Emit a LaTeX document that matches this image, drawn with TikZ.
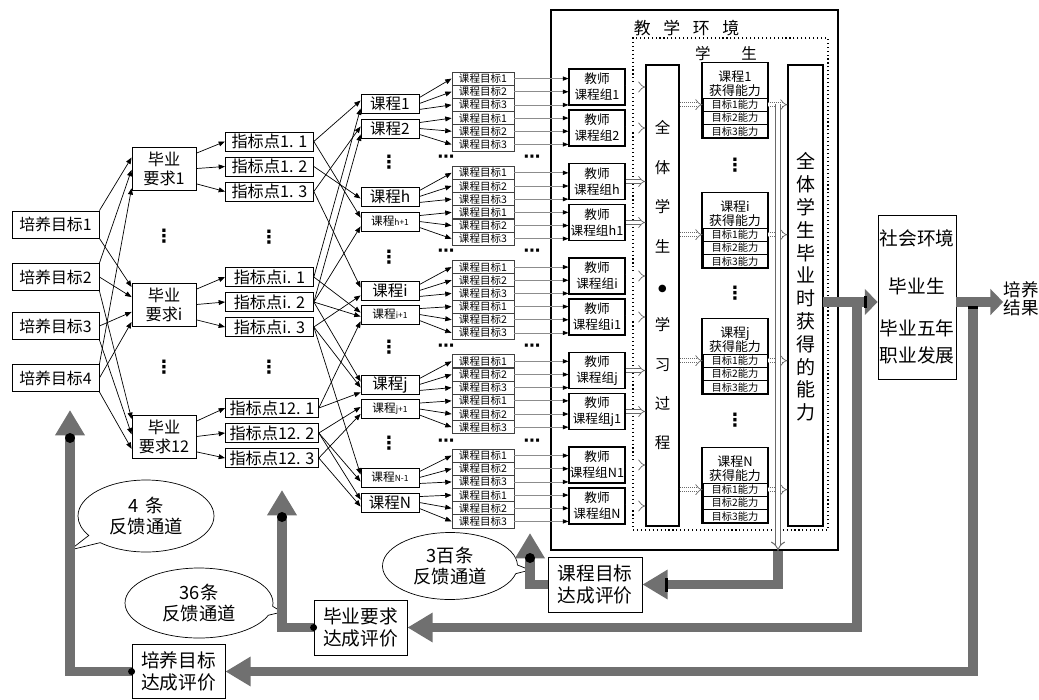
\documentclass[tikz,border=0pt]{standalone}
\usepackage{fontspec}
\setmainfont{Noto Sans CJK SC}
\newfontfamily\dvs{DejaVu Sans}
\usetikzlibrary{arrows.meta,positioning,calc,shapes.callouts}
\definecolor{fbgray}{HTML}{707070}
\definecolor{lgray}{HTML}{8C8C8C}
\definecolor{hgray}{HTML}{6A6A6A}
\newcommand\fsz[2]{\fontsize{#1}{#2}\selectfont}
\newcommand\smk[1]{{\fsz{8.3}{10}课程\fsz{6}{7}#1}}

\begin{document}
\begin{tikzpicture}[x=0.025cm,y=-0.025cm,
  box/.style={draw,line width=0.6pt,inner sep=0pt,align=center},
  wh/.style 2 args={minimum width=#1*0.025cm,minimum height=#2*0.025cm},
  arr/.style={line width=0.5pt,-{Triangle[length=4.5pt,width=3.5pt]}},
  garr/.style={draw=lgray,line width=0.5pt,-{Triangle[length=4pt,width=3pt,black]}},
  hol/.style={draw=hgray,line width=0.5pt,double=white,double distance=2.2pt,-Implies},
  holdot/.style={hol,densely dotted},
  fb/.style={draw=fbgray,line width=7pt,-{Triangle[length=18pt,width=20pt]}},
  fbs/.style={fb,-{Triangle[length=9pt,width=18pt]}},
  dotsv/.style={inner sep=0pt,font=\dvs\bfseries\fsz{13}{13}},
  dotsh/.style={inner sep=0pt,font=\dvs\bfseries\fsz{12}{12}},
  bubble/.style={ellipse callout,draw,line width=0.5pt,inner sep=0pt,align=center,font=\fsz{13}{15.5}}]

\useasboundingbox (0,0) rectangle (1039,699);

% training objectives
\foreach \n/\y in {1/224.5,2/277,3/326,4/378}
  \node[box,wh={87}{27},font=\fsz{11.3}{13}] (pm\n) at (55.5,\y) {培养目标\n};

% graduation requirements
\node[box,wh={64}{43},font=\fsz{11.5}{13.5}] (by1) at (164,168.5) {毕业\\要求1};
\node[box,wh={64}{43},font=\fsz{11.5}{13.5}] (byi) at (164,304.5) {毕业\\要求i};
\node[box,wh={64}{43},font=\fsz{11.5}{13.5}] (by12) at (164,436.5) {毕业\\要求12};
\node[dotsv] (dt1) at (164,236) {⋮};
\node[dotsv] (dt2) at (164,367) {⋮};

% indicator points
\foreach \gi/\y/\w in {1/141.5/88,i/277/88,12/408/93}
  \foreach \ki in {1,2,3}
    \node[box,wh={\w}{19},font=\fsz{11.5}{12},anchor=west] (zb\gi\ki) at (225,\y+25*\ki-25) {指标点\gi. \ki};
\node[dotsv] (dt3) at (269,237) {⋮};
\node[dotsv] (dt4) at (269,367) {⋮};

% courses
\foreach \nm/\y/\lb in {kc1/103.5/{课程1},kc2/128.5/{课程2},kch/196.5/{课程h},kch1/221.5/{\smk{h+1}},
    kci/290.5/{课程i},kci1/314.5/{\smk{i+1}},kcj/384.5/{课程j},kcj1/409/{\smk{j+1}},
    kcN1/477.5/{\smk{N-1}},kcN/502.5/{课程N}}
  \node[box,wh={58}{19},font=\fsz{11}{12}] (\nm) at (390,\y) {\lb};
\foreach \y [count=\c] in {162,257,347,443}
  \node[dotsv] (dk\c) at (389,\y) {⋮};

% course objectives
\foreach \gi in {0,...,4}
  \foreach \ki in {0,...,5} {
    \pgfmathtruncatemacro\tn{mod(\ki,3)+1}
    \node[box,draw=black!75,wh={62}{13.2},font=\fsz{7.5}{8}] (mb\gi\ki) at (483,72+94.25*\gi+13.17*\ki+6.58) {课程目标\tn};
  }
\foreach \y [count=\c] in {159,253,348,443} {
  \node[dotsh] (dl\c) at (446,\y) {⋯};
  \node[dotsh] (dr\c) at (532,\y) {⋯};
}

% teaching environment
\node[draw,line width=0.8pt,wh={287}{540},inner sep=0pt] (jxhj) at (694.5,280) {};
\node[inner sep=0pt,font=\fsz{12}{12}] (jxhjt) at (686.5,28) {教\hspace{9pt}学\hspace{9pt}环\hspace{9pt}境};
\node[draw,dotted,line width=0.8pt,wh={195}{492},inner sep=0pt] (xs) at (730.5,284) {};
\node[inner sep=0pt,font=\fsz{11}{11}] (xst) at (726,54) {学\hspace{22pt}生};

% teacher groups
\foreach \gi/\la/\lb in {0/1/2,1/h/h1,2/i/i1,3/j/j1,4/N1/N} {
  \node[box,line width=0.8pt,wh={56}{36},font=\fsz{9}{11.5}] (js\gi0) at (597,87+94.5*\gi) {教师\\课程组\la};
  \node[box,line width=0.8pt,wh={56}{36},font=\fsz{9}{11.5}] (js\gi1) at (597,128+94.5*\gi) {教师\\课程组\lb};
}

% learning process
\node[box,line width=0.8pt,wh={33}{461}] (qt) at (662.5,295.5) {};
\node[inner sep=0pt,align=center,font=\fsz{11}{28}] (qtt) at (662.5,285.5) {全\\体\\学\\生\\{\dvs\fsz{7}{28}●}\\学\\习\\过\\程};

% abilities per course
\foreach \nm/\tn/\tp in {nl1/1/62,nli/i/192,nlj/j/318,nlN/N/447} {
  \node[box,line width=0.8pt,wh={66}{76},anchor=north] (\nm) at (735,\tp) {};
  \node[inner sep=0pt,align=center,font=\fsz{9.2}{10}] (\nm h) at (735,\tp+22) {课程\tn\\获得能力};
  \foreach \r in {1,2,3}
    \node[box,line width=0.7pt,wh={64}{13.3},font=\fsz{7.3}{8}] (\nm r\r) at (735,\tp+36+13.3*\r-6.65) {目标\r{}能力};
}
\foreach \y [count=\c] in {165,293,420}
  \node[dotsv] (dn\c) at (735,\y) {⋮};

% graduate abilities
\node[box,line width=0.8pt,wh={35}{461}] (qr) at (805.5,295.5) {};
\node[inner sep=0pt,align=center,font=\fsz{13.5}{16.2}] (qrt) at (805.5,287) {全\\体\\学\\生\\毕\\业\\时\\获\\得\\的\\能\\力};

% society
\node[box,wh={78}{164},font=\fsz{13.3}{19}] (shj) at (917,297) {社会环境\\[15pt]毕业生\\[11pt]毕业五年\\职业发展};
\node[inner sep=0pt,align=center,font=\fsz{12.5}{13}] (pyjg) at (1021,299) {培养\\结果};

% evaluations
\node[box,wh={94}{55},font=\fsz{13.3}{15.6}] (kpj) at (595,584.5) {课程目标\\达成评价};
\node[box,wh={93}{55},font=\fsz{13.3}{15.6}] (bpj) at (360.5,627.5) {毕业要求\\达成评价};
\node[box,wh={93}{54},font=\fsz{13.3}{15.6}] (ppj) at (178.5,671.5) {培养目标\\达成评价};

% bubbles
\node[bubble,wh={136}{72},callout absolute pointer={(70,550)}] (c4) at (146,516) {4\hspace{5pt}条\\反馈通道};
\node[bubble,wh={148}{70},callout absolute pointer={(282,612)}] (c36) at (199,603) {36条\\反馈通道};
\node[bubble,wh={135}{67},callout absolute pointer={(530,570)}] (c3) at (450,566) {3百条\\反馈通道};

% objectives -> requirements
\foreach \s/\sa/\tg/\f in {pm1/north east/by1/0.25,pm2/north east/by1/0.53,pm4/north east/by1/0.95,
    pm1/south east/byi/0.1,pm2/east/byi/0.33,pm3/east/byi/0.67,pm4/east/byi/0.9,
    pm2/south east/by12/0.1,pm3/south east/by12/0.45,pm4/south east/by12/0.78}
  \draw[arr] (\s.\sa) -- ($(\tg.north west)!\f!(\tg.south west)$);

% requirements -> indicator points
\foreach \b/\gi in {by1/1,byi/i,by12/12}
  \foreach \ki/\f in {1/0.15,2/0.5,3/0.85}
    \draw[arr] ($(\b.north east)!\f!(\b.south east)$) -- (zb\gi\ki.west);

% indicator points -> courses
\foreach \s/\tg/\f in {zb11/kc1/0.35,zb11/kch1/0.3,zb12/kch/0.6,zb13/kc2/0.4,zb13/kci/0.35,
    zbi1/kc1/0.75,zbi1/kci1/0.4,zbi2/kc2/0.8,zbi2/kch1/0.75,zbi2/kci1/0.6,zbi2/kcj/0.35,
    zbi3/kci/0.75,zbi3/kcj/0.65,zbi3/kcN1/0.35,zb121/kci1/0.85,zb121/kcj/0.9,
    zb122/kcj1/0.4,zb122/kcN1/0.7,zb122/kcN/0.35,zb123/kcj1/0.75,zb123/kcN/0.7}
  \draw[arr] (\s.east) -- ($(\tg.north west)!\f!(\tg.south west)$);

% courses -> course objectives
\foreach \c/\gi/\pp in {kc1/0/0,kc2/0/1,kch/1/0,kch1/1/1,kci/2/0,kci1/2/1,kcj/3/0,kcj1/3/1,kcN1/4/0,kcN/4/1}
  \foreach \ki/\f in {0/0.2,1/0.5,2/0.8} {
    \pgfmathtruncatemacro\mm{3*\pp+\ki}
    \draw[arr] ($(\c.north east)!\f!(\c.south east)$) -- (mb\gi\mm.west);
  }

% course objectives -> teacher groups
\foreach \gi in {0,...,4}
  \foreach \ki in {0,...,5} {
    \pgfmathtruncatemacro\pp{int(\ki/3)}
    \draw[garr] (mb\gi\ki.east) -- (mb\gi\ki.east -| js\gi\pp.west);
  }

% teacher groups -> learning process
\foreach \gi in {0,...,4}
  \foreach \pp in {0,1}
    \draw[hol] (js\gi\pp.east) -- (js\gi\pp.east -| qt.west);

% learning -> abilities -> graduates
\foreach \nm in {nl1,nli,nlj,nlN} {
  \draw[holdot] (qt.east |- \nm r1) -- (\nm r1.west);
  \draw[holdot] (\nm r1.east) -- (\nm r1.east -| qr.west);
}
\coordinate (vt) at (778,104);
\coordinate (vb) at (778,551);
\draw[hol,line width=0.7pt,double distance=2.8pt] (vt) -- (vb);

% feedback paths
\coordinate (m1) at (823,302);
\coordinate (b1) at (857,302);
\coordinate (b2) at (973,302);
\coordinate (kt) at (530,533);
\coordinate (bt) at (282,490);
\coordinate (pt) at (70,410);
\draw[fb] (b1) |- (bpj.east);
\draw[fb] (b2) |- (ppj.east);
\draw[fbs] (m1) -- (m1 -| shj.west);
\draw[fbs] (shj.east |- m1) -- (pyjg.west |- m1);
\draw[fb] (vb) |- (kpj.east);
\draw[fb] (kpj.west) -| (kt);
\draw[fb] (bpj.west) -| (bt);
\draw[fb] (ppj.west) -| (pt);
\fill (530,558) circle (5);
\fill (282,517) circle (5);
\fill (70,438) circle (5);
\fill (bpj.west) circle (3.5);
\fill (ppj.west) circle (3.5);
\fill ($(kpj.east)+(23,-7)$) rectangle ($(kpj.east)+(26,7)$);
\fill ($(m1 -| shj.west)+(-14,-6)$) rectangle ($(m1 -| shj.west)+(-11,6)$);
\fill ($(b2)+(-5,4)$) rectangle ($(b2)+(5,7)$);
\end{tikzpicture}
\end{document}
